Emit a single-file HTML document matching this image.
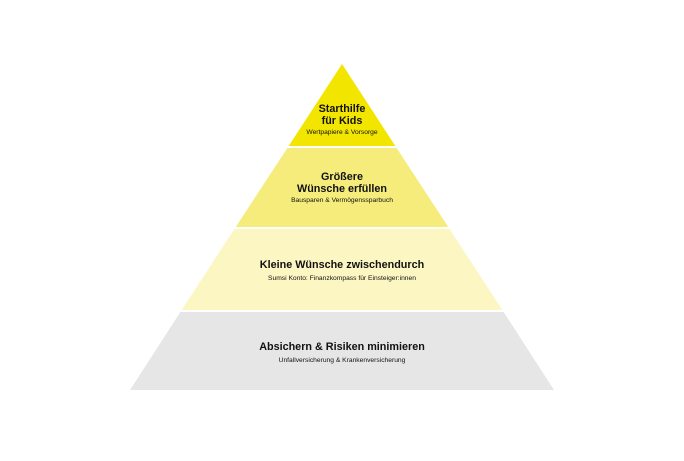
<!DOCTYPE html>
<html><head><meta charset="utf-8"><style>
html,body{margin:0;padding:0;background:#fff;}
svg text{font-family:"Liberation Sans",Arial,sans-serif;fill:#111;text-anchor:middle;}
.t{font-size:10.8px;font-weight:bold;}
.s{font-size:6.7px;}
</style></head><body>
<svg width="684" height="456" viewBox="0 0 684 456" xmlns="http://www.w3.org/2000/svg">
<rect width="684" height="456" fill="#fff"/>
<polygon points="342,64 395.3,146 288.7,146" fill="#f2e500"/>
<polygon points="396.6,148 448.3,227 235.7,227 287.4,148" fill="#f5ec7c"/>
<polygon points="449.6,229 502.3,310 181.7,310 234.4,229" fill="#fcf6c2"/>
<polygon points="503.6,312 554,390 130,390 180.4,312" fill="#e6e6e6"/>
<text class="t" x="342" y="112">Starthilfe</text>
<text class="t" x="342" y="124">für Kids</text>
<text class="s" x="342" y="134">Wertpapiere &amp; Vorsorge</text>
<text class="t" x="342" y="180">Größere</text>
<text class="t" x="342" y="192">Wünsche erfüllen</text>
<text class="s" x="342" y="202">Bausparen &amp; Vermögenssparbuch</text>
<text class="t" x="342" y="268">Kleine Wünsche zwischendurch</text>
<text class="s" x="342" y="280">Sumsi Konto: Finanzkompass für Einsteiger:innen</text>
<text class="t" x="342" y="350">Absichern &amp; Risiken minimieren</text>
<text class="s" x="342" y="362">Unfallversicherung &amp; Krankenversicherung</text>
</svg>
</body></html>
